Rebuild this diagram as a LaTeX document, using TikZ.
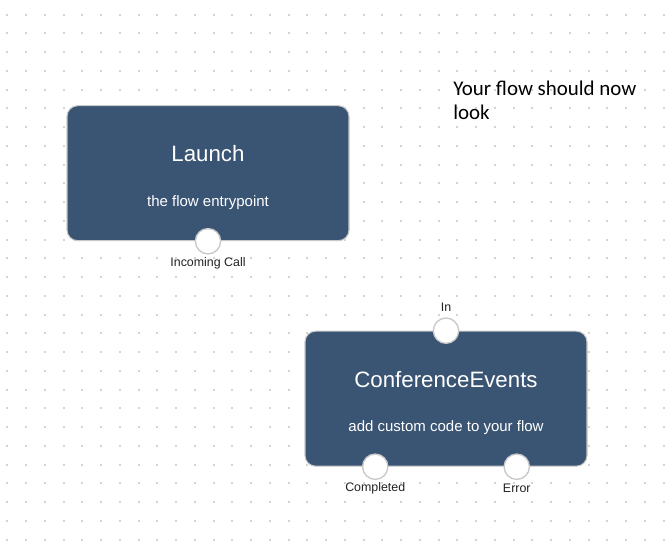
\documentclass[tikz,border=0pt]{standalone}
\usepackage{fontspec}
\setmainfont{Liberation Sans}
\newfontfamily\notefont{Carlito}
\usetikzlibrary{positioning,calc}
\definecolor{boxblue}{HTML}{3A5473}
\definecolor{boxrim}{HTML}{C8C8C8}
\definecolor{griddot}{HTML}{D4D4D4}
\definecolor{labelgray}{HTML}{222222}
\tikzset{
  flowbox/.style={draw=boxrim,line width=0.8pt,fill=boxblue,rounded corners=8pt,
    minimum width=211.5pt,minimum height=101.25pt,inner sep=0pt},
  boxtitle/.style={text=white,inner sep=0pt,font=\fontsize{16.7}{19}\selectfont},
  boxsub/.style={text=white,inner sep=0pt,font=\fontsize{11.25}{13}\selectfont},
  port/.style={circle,draw=boxrim,line width=1pt,fill=white,minimum size=19pt,inner sep=0pt},
  portlabel/.style={text=labelgray,inner sep=0pt,font=\fontsize{9.3}{11}\selectfont},
}
\begin{document}
\begin{tikzpicture}[x=0.75pt,y=-0.75pt]
\useasboundingbox[fill=white](0,0) rectangle (670,548);
% dotted canvas
\foreach \i in {0,...,35}
  \foreach \j in {0,...,28}
    \fill[griddot](7.3+\i*18.75-1,14.7+\j*18.75-1) rectangle ++(2,2);
% note
\node[anchor=base west,inner sep=0pt,align=left,font=\notefont\fontsize{15.7}{18}\selectfont](note) at (453,120){Your flow should now\\look};
% launch block
\node[flowbox](launch) at (208,173.2){};
\node[boxtitle](launchtitle) at (208,154){Launch};
\node[boxsub](launchsub) at (208,202.5){the flow entrypoint};
\node[port](pcall) at (launch.south){};
\node[portlabel](lcall) at (208,263.5){Incoming Call};
% conference block
\node[flowbox](conf) at (446,398.7){};
\node[boxtitle](conftitle) at (446,379.3){ConferenceEvents};
\node[boxsub](confsub) at (446,427.5){add custom code to your flow};
\node[port](pin) at (conf.north){};
\node[portlabel](lin) at (446,307.3){In};
\node[port](pdone) at ($(conf.south west)!0.25!(conf.south east)$){};
\node[port](perr) at ($(conf.south west)!0.75!(conf.south east)$){};
\node[portlabel](ldone) at (pdone|-0,488){Completed};
\node[portlabel](lerr) at (perr|-0,488){Error};
\end{tikzpicture}
\end{document}
